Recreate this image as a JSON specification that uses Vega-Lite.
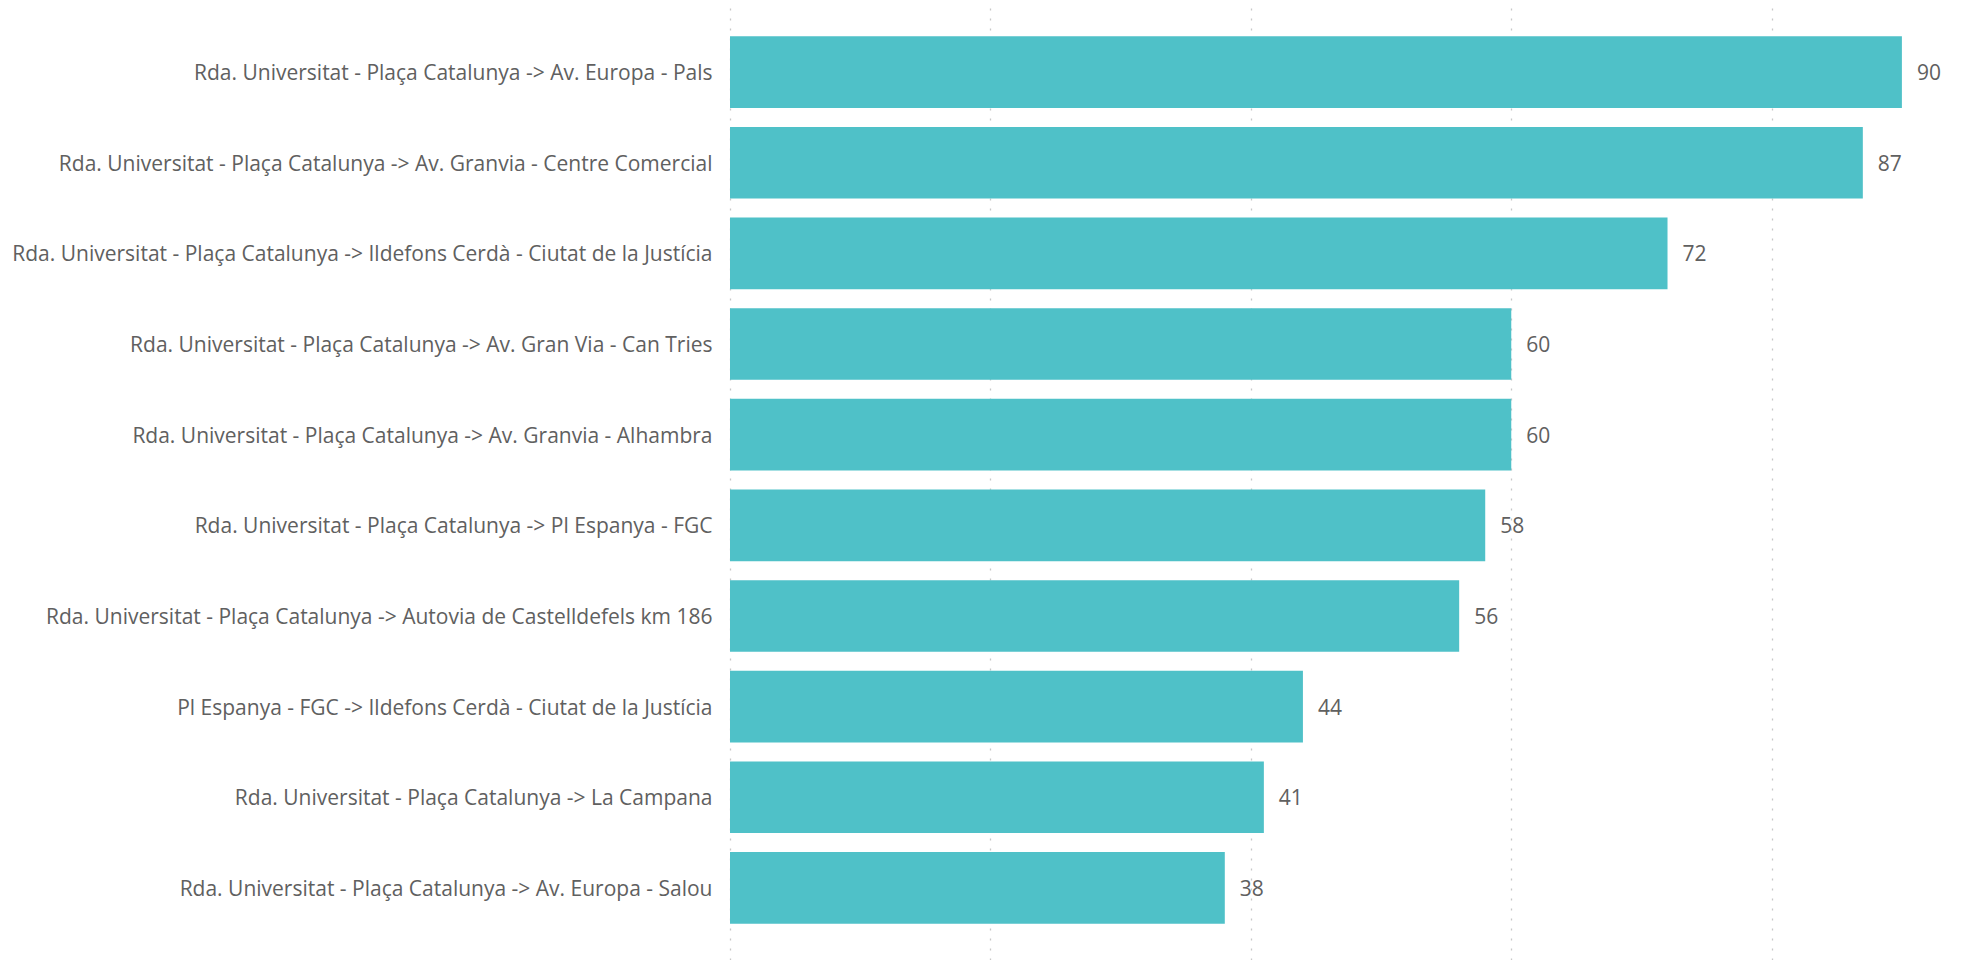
{
  "$schema": "https://vega.github.io/schema/vega-lite/v6.json",
  "autosize": "none",
  "padding": {"left": 730, "top": 0, "right": 0, "bottom": 0},
  "width": 1237,
  "height": 960,
  "background": "white",
  "data": {
    "values": [
      {"route": "Rda. Universitat - Plaça Catalunya -> Av. Europa - Pals", "value": 90},
      {"route": "Rda. Universitat - Plaça Catalunya -> Av. Granvia - Centre Comercial", "value": 87},
      {"route": "Rda. Universitat - Plaça Catalunya -> Ildefons Cerdà - Ciutat de la Justícia", "value": 72},
      {"route": "Rda. Universitat - Plaça Catalunya -> Av. Gran Via - Can Tries", "value": 60},
      {"route": "Rda. Universitat - Plaça Catalunya -> Av. Granvia - Alhambra", "value": 60},
      {"route": "Rda. Universitat - Plaça Catalunya -> Pl Espanya - FGC", "value": 58},
      {"route": "Rda. Universitat - Plaça Catalunya -> Autovia de Castelldefels km 186", "value": 56},
      {"route": "Pl Espanya - FGC -> Ildefons Cerdà - Ciutat de la Justícia", "value": 44},
      {"route": "Rda. Universitat - Plaça Catalunya -> La Campana", "value": 41},
      {"route": "Rda. Universitat - Plaça Catalunya -> Av. Europa - Salou", "value": 38}
    ]
  },
  "config": {
    "view": {"stroke": null},
    "font": "Open Sans"
  },
  "encoding": {
    "y": {
      "field": "route",
      "type": "nominal",
      "sort": null,
      "title": null,
      "scale": {"paddingInner": 0.21, "paddingOuter": 0.4},
      "axis": {
        "ticks": false,
        "domain": false,
        "grid": false,
        "labelFont": "Open Sans",
        "labelFontSize": 21,
        "labelColor": "#606060",
        "labelPadding": 18,
        "labelOffset": 2,
        "labelLimit": 0
      }
    },
    "x": {
      "field": "value",
      "type": "quantitative",
      "title": null,
      "scale": {"domain": [0, 95], "nice": false},
      "axis": {
        "values": [0, 20, 40, 60, 80],
        "labels": false,
        "ticks": false,
        "domain": false,
        "grid": true,
        "gridColor": "#C8C8C8",
        "gridDash": [2, 8],
        "gridWidth": 1.3
      }
    }
  },
  "layer": [
    {"mark": {"type": "bar", "color": "#4FC1C8"}},
    {
      "mark": {"type": "text", "align": "left", "baseline": "middle", "dx": 15, "dy": 2, "font": "Open Sans", "fontSize": 21, "color": "#606060"},
      "encoding": {"text": {"field": "value", "type": "quantitative"}}
    }
  ]
}
